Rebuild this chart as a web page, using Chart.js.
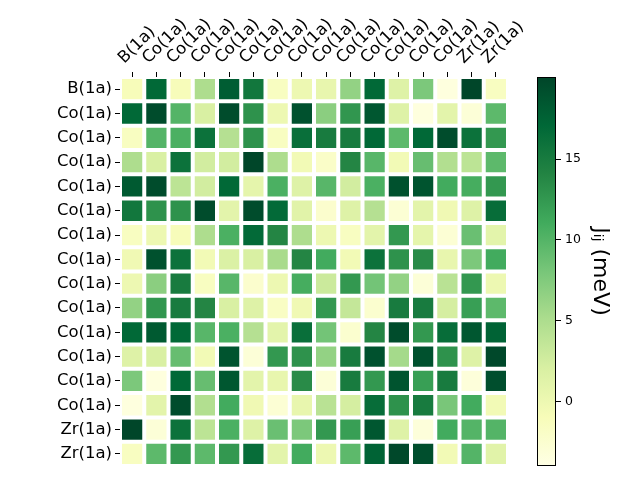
<!DOCTYPE html>
<html>
<head>
<meta charset="utf-8">
<script src="https://cdn.jsdelivr.net/npm/chart.js@4.4.0/dist/chart.umd.min.js"></script>
<style>
html, body { margin: 0; padding: 0; background: #fff; }
#wrap { position: relative; width: 640px; height: 480px; }
#wrap canvas { position: absolute; left: 0; top: 0; }
</style>
</head>
<body>
<div id="wrap">
<canvas id="heatChart" width="640" height="480"></canvas>
<canvas id="barChart" width="640" height="480"></canvas>
</div>
<script>
// atom labels, rows top to bottom, columns left to right
const rowLabels = ['B(1a)', 'Co(1a)', 'Co(1a)', 'Co(1a)', 'Co(1a)', 'Co(1a)', 'Co(1a)', 'Co(1a)',
                   'Co(1a)', 'Co(1a)', 'Co(1a)', 'Co(1a)', 'Co(1a)', 'Co(1a)', 'Zr(1a)', 'Zr(1a)'];
const colLabels = rowLabels.slice();

// exchange J_ij in meV
const jValues = [
    [-1, 17, -1, 5, 18, 15.5, -1.5, 0, 0.5, 6.5, 17, 1.5, 7.8, -3.5, 20, -1.5],
    [17, 19.5, 10, 2, 19.5, 13, 0, 19, 7, 12.7, 18.5, 1.5, -3.5, 1, -3, 9.5],
    [-1.5, 10, 10.5, 16, 4.5, 13, -1.5, 16.3, 15, 15, 17, 9.5, 17, 19.5, 16, 12.5],
    [5, 2, 16, 2.5, 2.5, 20, 5, -0.5, -2, 14, 9.8, -0.5, 9, 4.7, 4, 9.5],
    [18.3, 19.5, 4, 2.5, 17, 0.8, 10.5, 1.5, 9.8, 2.5, 10.5, 19, 18.8, 11, 10.8, 12.5],
    [15.5, 13, 13, 19.5, 1, 19.5, 16.8, 1.2, -2.3, 1.5, 4.5, -2.8, 1, -0.3, 1.5, 16.5],
    [-1.5, 0, -1, 5, 10.5, 16.8, 14, 5, 0, -1.5, 1, 12.5, 0.8, -2.8, 8.8, 1],
    [-0.3, 19, 16, -0.5, 1.8, 2, 5.3, 14, 11, -0.5, 16, 13, 13.5, 0.5, 7.8, 11],
    [0, 7, 15, -1.5, 9.8, -2.3, 0, 10.8, 3, 12.5, 8.3, 6.5, -3, 4.2, 12.5, 0],
    [6.5, 12.7, 15, 14, 2, 1.5, -1.7, -0.3, 12.5, 3.5, -2.5, 15, 15, 2.3, 12, 9.5],
    [17, 18.3, 17, 9.8, 10.5, 4.5, 1, 16.3, 8.3, -2.5, 14, 19.5, 12.5, 16.5, 18.5, 17.5],
    [1.5, 2, 9, -0.5, 18.8, -3, 12.5, 13, 6.5, 15, 19, 5.5, 19, 13, 1.5, 19.8],
    [7.8, -3.5, 17, 9, 18.5, 1, 0.5, 13.5, -3, 15, 12.5, 18.8, 12, 15, -3.2, 19.3],
    [-3.5, 1, 19.5, 4.7, 11, -0.3, -2.8, 0.5, 4.2, 2.3, 16.5, 13, 15, 8, 11, -0.5],
    [20, -3, 16, 4, 10.5, 1.5, 8.8, 7.8, 12.5, 12, 18.5, 1.5, -3.2, 11, 10, 10],
    [-1.5, 9.5, 12.5, 9.5, 12.5, 16.5, 1, 11, 0, 9.5, 17.5, 19.8, 19.3, -0.5, 10, 1.2]
];

// colour bar range and ticks
const cbMin = -3.97;
const cbMax = 20.07;
const cbTicks = [0, 5, 10, 15];

// YlGn colormap
const ylgnStops = ['#ffffe5', '#f7fcb9', '#d9f0a3', '#addd8e', '#78c679',
                   '#41ab5d', '#238443', '#006837', '#004529'];

Chart.defaults.font.family = "'DejaVu Sans', sans-serif";
Chart.defaults.color = '#000';

function hexToRgb(h) {
    return [parseInt(h.substr(1, 2), 16), parseInt(h.substr(3, 2), 16), parseInt(h.substr(5, 2), 16)];
}

function ylgn(v) {
    let t = (v - cbMin) / (cbMax - cbMin);
    t = Math.min(1, Math.max(0, t));
    const pos = t * (ylgnStops.length - 1);
    const i = Math.min(Math.floor(pos), ylgnStops.length - 2);
    const f = pos - i;
    const a = hexToRgb(ylgnStops[i]);
    const b = hexToRgb(ylgnStops[i + 1]);
    const c = a.map((x, k) => Math.round(x + (b[k] - x) * f));
    return 'rgb(' + c.join(',') + ')';
}

// one stacked dataset per row, each cell one unit tall
const heatDatasets = rowLabels.map((row, i) => ({
    label: row,
    data: colLabels.map(() => 1),
    backgroundColor: jValues[i].map(v => ylgn(v)),
    borderColor: '#ffffff',
    borderWidth: 2,
    borderSkipped: false,
    inflateAmount: 0,
    barPercentage: 1,
    categoryPercentage: 1
}));

new Chart(document.getElementById('heatChart'), {
    type: 'bar',
    data: { labels: colLabels, datasets: heatDatasets },
    options: {
        responsive: false,
        animation: false,
        events: [],
        layout: { padding: { left: 0, right: 132, top: 0, bottom: 14 } },
        plugins: { legend: { display: false }, tooltip: { enabled: false } },
        scales: {
            x: {
                position: 'top',
                stacked: true,
                grid: { offset: false, drawOnChartArea: false, color: '#000', tickLength: 5 },
                border: { display: false },
                ticks: {
                    autoSkip: false,
                    minRotation: 45,
                    maxRotation: 45,
                    font: { size: 16.5 },
                    padding: 4,
                    labelOffset: 3
                },
                afterFit: function(scale) { scale.height = 77; }
            },
            y: {
                stacked: true,
                reverse: true,
                min: 0,
                max: 16,
                afterBuildTicks: function(scale) {
                    scale.ticks = rowLabels.map((l, i) => ({ value: i + 0.5 }));
                },
                ticks: {
                    autoSkip: false,
                    font: { size: 16.5 },
                    padding: 3,
                    callback: (v, i) => rowLabels[i]
                },
                grid: { drawOnChartArea: false, color: '#000', tickLength: 5 },
                border: { display: false },
                afterFit: function(scale) { scale.width = 120; }
            }
        }
    }
});

// colour bar
new Chart(document.getElementById('barChart'), {
    type: 'bar',
    data: {
        labels: [''],
        datasets: [{
            data: [[cbMin, cbMax]],
            backgroundColor: function(context) {
                const area = context.chart.chartArea;
                if (!area) return null;
                const g = context.chart.ctx.createLinearGradient(0, area.bottom, 0, area.top);
                ylgnStops.forEach((c, k) => g.addColorStop(k / (ylgnStops.length - 1), c));
                return g;
            },
            borderColor: '#000',
            borderWidth: 1,
            borderSkipped: false,
            inflateAmount: 0,
            barPercentage: 1,
            categoryPercentage: 1
        }]
    },
    options: {
        responsive: false,
        animation: false,
        events: [],
        layout: { padding: { left: 537, right: 0, top: 77, bottom: 14 } },
        plugins: { legend: { display: false }, tooltip: { enabled: false } },
        scales: {
            x: { display: false },
            y: {
                position: 'right',
                min: cbMin,
                max: cbMax,
                afterBuildTicks: function(scale) {
                    scale.ticks = cbTicks.map(v => ({ value: v }));
                },
                ticks: { font: { size: 12.5 }, padding: 4 },
                grid: { drawOnChartArea: false, color: '#000', tickLength: 5 },
                border: { display: false },
                title: {
                    display: true,
                    text: 'Jᵢⱼ (meV)',
                    font: { size: 22 },
                    color: '#000',
                    padding: { top: 27, bottom: 0 }
                },
                afterFit: function(scale) { scale.width = 84; }
            }
        }
    }
});
</script>
</body>
</html>
